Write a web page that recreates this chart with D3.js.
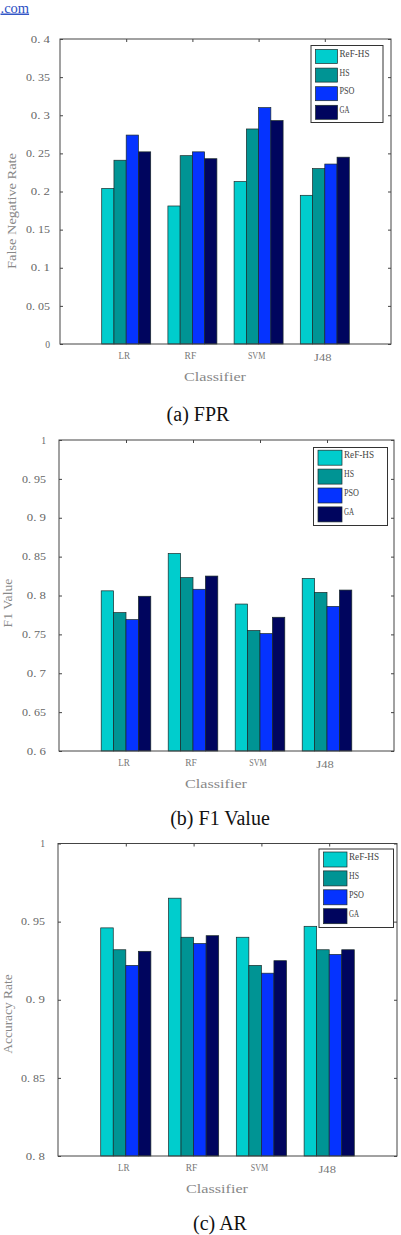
<!DOCTYPE html>
<html>
<head>
<meta charset="utf-8">
<script src="https://cdn.jsdelivr.net/npm/d3@7"></script>
<style>
  html, body { margin: 0; padding: 0; background: #fff; }
  svg { display: block; }
</style>
</head>
<body>
<svg id="chart" width="401" height="1235"></svg>
<script>
// ---------- DATA ----------
const categories = ["LR", "RF", "SVM", "J48"];
const seriesNames = ["ReF-HS", "HS", "PSO", "GA"];
const seriesColors = ["#00cdcd", "#009494", "#0533ff", "#00055e"];

// (a) FPR / False Negative Rate
const fprRefHS = [0.204, 0.181, 0.213, 0.195];
const fprHS    = [0.241, 0.247, 0.282, 0.230];
const fprPSO   = [0.274, 0.252, 0.310, 0.236];
const fprGA    = [0.252, 0.243, 0.293, 0.245];
const fprTicks = [0, 0.05, 0.1, 0.15, 0.2, 0.25, 0.3, 0.35, 0.4];

// (b) F1 Value
const f1RefHS = [0.806, 0.854, 0.789, 0.822];
const f1HS    = [0.778, 0.823, 0.755, 0.804];
const f1PSO   = [0.769, 0.808, 0.751, 0.786];
const f1GA    = [0.799, 0.825, 0.772, 0.807];
const f1Ticks = [0.6, 0.65, 0.7, 0.75, 0.8, 0.85, 0.9, 0.95, 1];

// (c) AR / Accuracy Rate
const arRefHS = [0.946, 0.965, 0.940, 0.947];
const arHS    = [0.932, 0.940, 0.922, 0.932];
const arPSO   = [0.922, 0.936, 0.917, 0.929];
const arGA    = [0.931, 0.941, 0.925, 0.932];
const arTicks = [0.8, 0.85, 0.9, 0.95, 1];

const xLabel = "Classifier";

// ---------- DRAWING ----------
const svg = d3.select("#chart");
const serifFont = "'Liberation Serif', 'Times New Roman', serif";

// half-width "monospace" look: fixed advance per character
function mono(sel, charW) {
  sel.attr("textLength", function () { return this.textContent.length * charW; })
     .attr("lengthAdjust", "spacingAndGlyphs");
  return sel;
}

// top-left link fragment
svg.append("text")
  .attr("x", 0.5).attr("y", 12.5)
  .attr("font-family", serifFont).attr("font-size", 14.5)
  .attr("fill", "#2b4fc4")
  .attr("text-decoration", "underline")
  .text(".com");

function fmtTick(v) {
  let s = d3.format("")(+v.toFixed(2));
  return s.replace(".", ". ");
}

function drawChart(cfg) {
  const g = svg.append("g");
  const x = d3.scaleLinear().domain([0, categories.length + 1]).range([cfg.left, cfg.right]);
  const y = d3.scaleLinear().domain(cfg.domain).range([cfg.bottom, cfg.top]);
  const unit = x(1) - x(0);
  const barW = 0.185;

  // bars
  cfg.series.forEach((vals, si) => {
    g.append("g").selectAll("rect")
      .data(vals)
      .join("rect")
      .attr("x", (d, i) => x(i + 1 + (si - 2) * barW))
      .attr("width", barW * unit)
      .attr("y", d => y(d))
      .attr("height", d => y(cfg.domain[0]) - y(d))
      .attr("fill", seriesColors[si])
      .attr("stroke", "#1a2a2a")
      .attr("stroke-width", 0.7);
  });

  // frame box
  g.append("rect")
    .attr("x", cfg.left).attr("y", cfg.top)
    .attr("width", cfg.right - cfg.left).attr("height", cfg.bottom - cfg.top)
    .attr("fill", "none").attr("stroke", "#444").attr("stroke-width", 1);

  // left axis (inward ticks)
  const yAxisL = d3.axisRight(y).tickValues(cfg.ticks).tickSize(3).tickFormat("");
  g.append("g").attr("transform", `translate(${cfg.left},0)`).call(yAxisL)
    .call(a => a.select(".domain").remove())
    .call(a => a.selectAll("line").attr("stroke", "#444"));
  // right axis (inward ticks)
  const yAxisR = d3.axisLeft(y).tickValues(cfg.ticks).tickSize(3).tickFormat("");
  g.append("g").attr("transform", `translate(${cfg.right},0)`).call(yAxisR)
    .call(a => a.select(".domain").remove())
    .call(a => a.selectAll("line").attr("stroke", "#444"));
  // top axis ticks at categories
  const xAxisT = d3.axisBottom(x).tickValues(d3.range(1, categories.length + 1)).tickSize(3).tickFormat("");
  g.append("g").attr("transform", `translate(0,${cfg.top})`).call(xAxisT)
    .call(a => a.select(".domain").remove())
    .call(a => a.selectAll("line").attr("stroke", "#444"));

  // y tick labels
  g.append("g").selectAll("text")
    .data(cfg.ticks)
    .join("text")
    .attr("x", cfg.labelRight)
    .attr("y", d => y(d))
    .attr("dy", "0.35em")
    .attr("text-anchor", "end")
    .attr("font-family", serifFont).attr("font-size", 10.5)
    .attr("fill", "#666")
    .text(d => fmtTick(d))
    .call(s => mono(s, 4.8));

  // x category labels
  g.append("g").selectAll("text")
    .data(categories)
    .join("text")
    .attr("x", (d, i) => x(i + 1) - 2)
    .attr("y", (d, i) => cfg.bottom + 11 + (d === "J48" ? 2 : 0))
    .attr("dy", "0.35em")
    .attr("text-anchor", "middle")
    .attr("font-family", serifFont).attr("font-size", 10.5)
    .attr("fill", "#777")
    .text(d => d)
    .call(s => mono(s, 5.8));

  // x axis title
  g.append("text")
    .attr("x", cfg.xTitleX).attr("y", cfg.bottom + 33)
    .attr("dy", "0.35em").attr("text-anchor", "middle")
    .attr("font-family", serifFont).attr("font-size", 12)
    .attr("fill", "#888")
    .text(xLabel)
    .call(s => mono(s, 6.2));

  // y axis title
  g.append("text")
    .attr("transform", `translate(${cfg.yTitleX},${cfg.yTitleY}) rotate(-90)`)
    .attr("dy", "0.35em").attr("text-anchor", "middle")
    .attr("font-family", serifFont).attr("font-size", 12)
    .attr("fill", "#888")
    .text(cfg.yLabel)
    .call(s => mono(s, 6.1));

  // caption
  g.append("text")
    .attr("x", cfg.captionX).attr("y", cfg.captionY)
    .attr("dy", "0.35em").attr("text-anchor", "middle")
    .attr("font-family", serifFont).attr("font-size", 20)
    .attr("fill", "#111")
    .text(cfg.caption);

  // legend
  const L = cfg.legend;
  const lg = g.append("g");
  lg.append("rect")
    .attr("x", L.x0).attr("y", L.y0)
    .attr("width", L.x1 - L.x0).attr("height", L.y1 - L.y0)
    .attr("fill", "#fff").attr("stroke", "#333").attr("stroke-width", 1);
  seriesNames.forEach((name, i) => {
    const cy = L.row0 + i * L.step;
    lg.append("rect")
      .attr("x", L.sx).attr("y", cy - L.sh / 2)
      .attr("width", L.sw).attr("height", L.sh)
      .attr("fill", seriesColors[i]).attr("stroke", "#1a2a2a").attr("stroke-width", 0.7);
    lg.append("text")
      .attr("x", L.sx + L.sw + 2).attr("y", cy - 3)
      .attr("dy", "0.35em")
      .attr("font-family", serifFont).attr("font-size", 10)
      .attr("fill", "#444")
      .text(name)
      .call(s => mono(s, 5));
  });
}

drawChart({
  left: 60, right: 391, top: 39, bottom: 344,
  domain: [0, 0.4], ticks: fprTicks,
  series: [fprRefHS, fprHS, fprPSO, fprGA],
  labelRight: 50, yLabel: "False Negative Rate", yTitleX: 12, yTitleY: 211,
  xTitleX: 215, caption: "(a) FPR", captionX: 198, captionY: 414,
  legend: { x0: 311, y0: 45.5, x1: 383, y1: 122.5, sx: 315.5, sw: 22, sh: 14, row0: 56.5, step: 18.6 }
});

drawChart({
  left: 59, right: 394, top: 440, bottom: 751,
  domain: [0.6, 1], ticks: f1Ticks,
  series: [f1RefHS, f1HS, f1PSO, f1GA],
  labelRight: 46, yLabel: "F1 Value", yTitleX: 7.5, yTitleY: 603,
  xTitleX: 216, caption: "(b) F1 Value", captionX: 220, captionY: 818,
  legend: { x0: 313.5, y0: 447.5, x1: 387.5, y1: 525.5, sx: 318, sw: 24, sh: 15, row0: 457.7, step: 18.9 }
});

drawChart({
  left: 58, right: 397, top: 843.5, bottom: 1156,
  domain: [0.8, 1], ticks: arTicks,
  series: [arRefHS, arHS, arPSO, arGA],
  labelRight: 45, yLabel: "Accuracy Rate", yTitleX: 7.5, yTitleY: 1014,
  xTitleX: 217, caption: "(c) AR", captionX: 220, captionY: 1223,
  legend: { x0: 319, y0: 849, x1: 393.5, y1: 927.5, sx: 323.5, sw: 23.5, sh: 15, row0: 859.5, step: 18.9 }
});
</script>
</body>
</html>
